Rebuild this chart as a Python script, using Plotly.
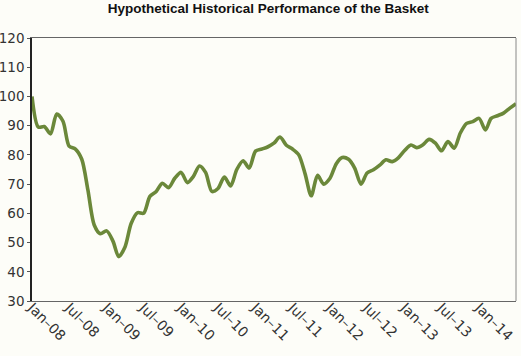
import plotly.graph_objects as go
import pandas as pd

# Monthly index levels, Jan 2008 .. Jul 2014
dates = pd.date_range("2008-01-01", "2014-07-01", freq="MS")
values = [
    100, 89.5, 89.7, 87.2, 94, 91.5, 83, 82, 78.5, 68,
    56, 53, 54, 50.5, 45.2, 48.5, 56.5, 60.2, 60, 65.8,
    67.5, 70.3, 68.8, 72, 74, 70.5, 72.5, 76.2, 74, 67.5,
    68.5, 72.4, 69.4, 75, 78, 75.5, 81.3, 82, 82.7, 84,
    86.1, 83.3, 82, 80, 73.5, 66, 73, 70, 72, 77,
    79.1, 78.5, 75.5, 70, 73.8, 74.9, 76.5, 78.3, 77.7, 79,
    81.5, 83.4, 82.5, 83.5, 85.3, 84, 81.4, 84.6, 82.3, 87.5,
    90.8, 91.4, 92.5, 88.5, 92.5, 93.4, 94.3, 96, 97.5,
]
tick_dates = pd.date_range("2008-01-01", "2014-01-01", freq="6MS")
tick_labels = [d.strftime("%b") + "\u2013" + d.strftime("%y") for d in tick_dates]
y_ticks = list(range(30, 121, 10))

title_text = "Hypothetical Historical Performance of the Basket"

fig = go.Figure()
fig.add_trace(go.Scatter(
    x=dates, y=values, mode="lines",
    line=dict(color="#6b883a", width=3.6, shape="spline", smoothing=0.8),
    hoverinfo="skip", showlegend=False,
))

fig.update_layout(
    width=521, height=356,
    margin=dict(l=32, r=5, t=38, b=55, autoexpand=False),
    paper_bgcolor="#fdfdf8", plot_bgcolor="#fdfdf8",
    title=dict(text="<b>" + title_text + "</b>", x=0.515, xanchor="center",
               y=0.99, yanchor="top",
               font=dict(family="Liberation Sans, Arial", size=13.5, color="#111")),
    font=dict(family="DejaVu Sans", size=14, color="#333"),
    xaxis=dict(
        range=[dates[0], dates[-1]], tickvals=tick_dates, ticktext=tick_labels,
        tickangle=45, showgrid=False, zeroline=False, automargin=False,
        showline=True, linecolor="#666", linewidth=1, mirror=True,
        ticks="", ticklabelstandoff=-8, tickfont=dict(size=14, color="#333"),
    ),
    yaxis=dict(
        range=[30, 120], tickvals=y_ticks, showgrid=False, zeroline=False,
        automargin=False,
        showline=True, linecolor="#222", linewidth=1.5,
        ticks="outside", ticklen=3, tickcolor="#555",
        tickfont=dict(size=13.5, color="#333"),
    ),
    shapes=[dict(type="line", xref="paper", yref="paper", x0=1, x1=1, y0=0, y1=1,
                 line=dict(color="#888", width=1))],
)

# remove the browser's default 8px body margin so the figure fills the window
fig.write_html("out.html",
               config={"displayModeBar": False},
               post_script="document.body.style.margin='0';document.body.style.background='#fdfdf8';")
